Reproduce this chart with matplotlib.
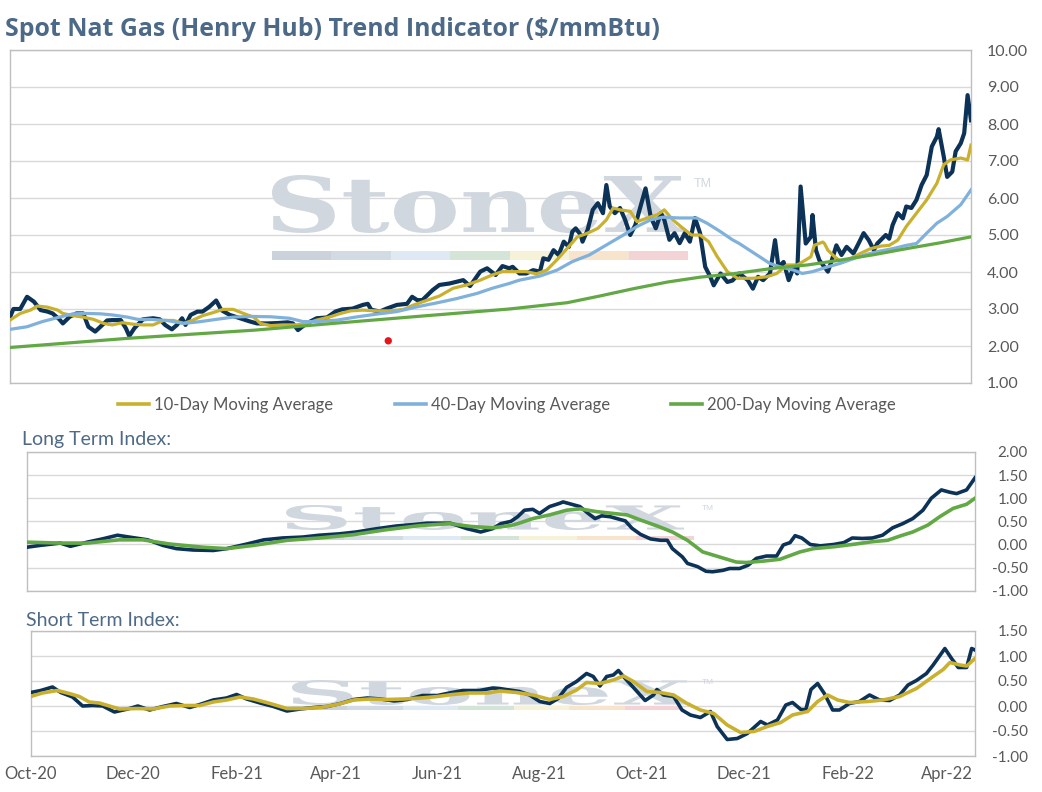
import numpy as np
import pandas as pd
import matplotlib
matplotlib.use("Agg")
import matplotlib.pyplot as plt
import matplotlib.dates as mdates
from matplotlib.ticker import FormatStrFormatter
from matplotlib.lines import Line2D
from matplotlib.patches import PathPatch, Rectangle
from matplotlib.textpath import TextPath
from matplotlib.font_manager import FontProperties
from matplotlib.transforms import Affine2D

plt.rcParams['font.family'] = ['Lato', 'DejaVu Sans']
plt.rcParams['axes.unicode_minus'] = False

# =========================
# DATOS (dias desde 2020-10-01)
# =========================
start = pd.Timestamp("2020-10-01")
last_day = 564

price_day = [
    0, 2, 6, 10, 14, 18, 22, 25, 29, 31,
    35, 39, 43, 46, 50, 53, 57, 60, 65, 68,
    70, 73, 78, 84, 88, 91, 95, 98, 101, 103,
    106, 110, 113, 117, 121, 124, 129, 135, 141, 145,
    151, 157, 163, 166, 169, 174, 180, 186, 191, 195,
    201, 207, 210, 212, 217, 221, 227, 233, 236, 239,
    242, 248, 252, 258, 266, 270, 276, 280, 285, 289,
    293, 295, 299, 303, 307, 311, 313, 316, 319, 322,
    325, 328, 330, 332, 335, 336, 339, 342, 345, 348,
    350, 352, 355, 358, 361, 364, 367, 370, 373, 376,
    379, 382, 384, 387, 390, 393, 396, 399, 402, 405,
    408, 411, 413, 417, 421, 424, 428, 433, 436, 439,
    442, 446, 449, 451, 454, 457, 460, 462, 464, 467,
    470, 471, 473, 475, 480, 482, 485, 488, 491, 495,
    498, 501, 504, 507, 509, 514, 516, 518, 521, 524,
    526, 529, 532, 535, 538, 541, 544, 545, 548, 550,
    553, 555, 558, 560, 562, 564]
price_val = [
    2.78, 3.00, 3.00, 3.33, 3.20, 2.97, 2.93, 2.88, 2.72, 2.61,
    2.79, 2.88, 2.88, 2.52, 2.39, 2.52, 2.69, 2.70, 2.70, 2.48,
    2.27, 2.48, 2.72, 2.75, 2.72, 2.57, 2.45, 2.57, 2.75, 2.57,
    2.84, 2.93, 2.93, 3.06, 3.23, 2.97, 2.84, 2.75, 2.66, 2.61,
    2.61, 2.62, 2.64, 2.61, 2.43, 2.61, 2.75, 2.77, 2.93, 2.99,
    3.01, 3.11, 3.14, 2.98, 2.93, 3.01, 3.11, 3.14, 3.33, 3.24,
    3.24, 3.51, 3.65, 3.69, 3.78, 3.62, 4.01, 4.10, 3.92, 4.16,
    4.10, 4.14, 3.96, 3.96, 4.05, 4.01, 4.37, 4.33, 4.59, 4.46,
    4.82, 4.68, 5.09, 5.18, 5.00, 4.82, 5.14, 5.68, 5.86, 5.59,
    6.35, 5.77, 5.59, 5.73, 5.41, 5.00, 5.27, 5.77, 6.26, 5.50,
    5.18, 5.59, 5.41, 4.87, 5.05, 4.78, 5.05, 4.82, 5.46, 5.05,
    4.14, 3.87, 3.64, 3.96, 3.73, 3.77, 3.96, 3.78, 3.55, 3.87,
    3.78, 3.96, 4.86, 4.14, 4.27, 3.78, 4.14, 3.96, 6.31, 4.77,
    4.95, 5.54, 4.59, 4.32, 4.01, 4.27, 4.72, 4.46, 4.68, 4.50,
    4.77, 5.05, 4.86, 4.59, 4.77, 5.00, 4.90, 5.27, 5.59, 5.45,
    5.77, 5.73, 5.95, 6.35, 6.62, 7.39, 7.66, 7.86, 7.12, 6.57,
    6.71, 7.26, 7.48, 7.75, 8.78, 8.10]

ma10_day = [
    0, 6, 12, 16, 22, 28, 31, 37, 43, 49,
    55, 60, 66, 72, 78, 84, 90, 96, 102, 107,
    113, 119, 125, 131, 137, 143, 147, 153, 160, 168,
    174, 180, 188, 194, 200, 207, 215, 223, 231, 237,
    245, 252, 260, 268, 276, 283, 289, 295, 303, 309,
    315, 321, 327, 333, 339, 345, 350, 354, 358, 364,
    368, 374, 380, 384, 389, 395, 400, 405, 410, 415,
    421, 427, 436, 444, 450, 456, 462, 465, 470, 472,
    477, 478, 480, 484, 488, 493, 499, 505, 511, 516,
    521, 526, 532, 538, 544, 548, 552, 558, 562, 564]
ma10_val = [
    2.70, 2.88, 2.97, 3.08, 3.05, 2.97, 2.88, 2.82, 2.78, 2.72,
    2.61, 2.57, 2.63, 2.59, 2.57, 2.57, 2.69, 2.69, 2.61, 2.69,
    2.82, 2.90, 2.99, 2.99, 2.88, 2.78, 2.61, 2.55, 2.57, 2.57,
    2.61, 2.70, 2.79, 2.88, 2.95, 2.97, 2.95, 2.95, 2.99, 3.11,
    3.24, 3.35, 3.56, 3.65, 3.78, 3.92, 4.01, 4.01, 4.01, 3.95,
    4.05, 4.33, 4.64, 4.95, 5.05, 5.18, 5.41, 5.73, 5.68, 5.64,
    5.36, 5.46, 5.55, 5.68, 5.41, 5.18, 5.00, 5.00, 4.82, 4.42,
    4.01, 3.83, 3.83, 3.87, 3.96, 4.19, 4.19, 4.27, 4.41, 4.72,
    4.81, 4.77, 4.59, 4.41, 4.27, 4.36, 4.50, 4.63, 4.70, 4.72,
    4.86, 5.23, 5.59, 5.95, 6.40, 6.90, 7.03, 7.08, 7.03, 7.43]

ma40_day = [
    0, 10, 19, 29, 37, 45, 53, 60, 69, 75,
    82, 92, 102, 112, 121, 131, 141, 153, 164, 172,
    180, 192, 204, 215, 227, 239, 251, 262, 274, 283,
    293, 299, 311, 321, 330, 340, 350, 360, 368, 376,
    383, 393, 403, 409, 417, 424, 428, 434, 440, 446,
    452, 460, 465, 471, 480, 487, 495, 503, 511, 518,
    526, 532, 538, 544, 550, 558, 564]
ma40_val = [
    2.45, 2.52, 2.66, 2.78, 2.87, 2.88, 2.87, 2.84, 2.78, 2.72,
    2.72, 2.69, 2.61, 2.66, 2.72, 2.78, 2.80, 2.79, 2.75, 2.66,
    2.66, 2.70, 2.79, 2.86, 2.93, 3.06, 3.17, 3.28, 3.42, 3.56,
    3.69, 3.78, 3.89, 4.05, 4.28, 4.46, 4.73, 5.00, 5.23, 5.41,
    5.48, 5.46, 5.46, 5.32, 5.09, 4.87, 4.77, 4.59, 4.41, 4.23,
    4.14, 4.05, 3.96, 4.01, 4.14, 4.23, 4.36, 4.48, 4.57, 4.63,
    4.72, 4.77, 5.05, 5.32, 5.50, 5.82, 6.22]

ma200_day = [0, 70, 144, 192, 242, 293, 327, 346, 366, 386,
             405, 424, 448, 468, 487, 506, 526, 546, 564]
ma200_val = [1.96, 2.21, 2.43, 2.62, 2.81, 3.00, 3.17, 3.35, 3.55, 3.73,
             3.86, 3.95, 4.10, 4.19, 4.32, 4.46, 4.63, 4.79, 4.95]

red_dot_day = 222
red_dot_val = 2.14

lt_price_day = [
    0, 8, 20, 26, 36, 45, 54, 61, 72, 81,
    89, 99, 111, 119, 131, 141, 152, 164, 174, 186,
    196, 208, 220, 230, 238, 252, 262, 270, 277, 282,
    288, 292, 296, 301, 305, 311, 317, 319, 324, 329,
    334, 338, 342, 347, 352, 356, 360, 365, 371, 377,
    381, 384, 390, 393, 399, 404, 408, 414, 418, 424,
    429, 434, 440, 446, 450, 454, 457, 461, 466, 472,
    480, 486, 491, 497, 503, 509, 515, 521, 527, 533,
    538, 544, 549, 553, 559, 564]
lt_price_val = [
    -0.06, -0.02, 0.03, -0.04, 0.05, 0.12, 0.20, 0.16, 0.10, -0.02,
    -0.09, -0.12, -0.13, -0.09, 0.01, 0.10, 0.14, 0.16, 0.20, 0.23,
    0.27, 0.34, 0.40, 0.43, 0.46, 0.46, 0.34, 0.27, 0.34, 0.45,
    0.50, 0.60, 0.74, 0.76, 0.67, 0.82, 0.89, 0.92, 0.87, 0.82,
    0.67, 0.56, 0.62, 0.60, 0.55, 0.51, 0.35, 0.22, 0.12, 0.09,
    0.09, -0.09, -0.27, -0.41, -0.48, -0.58, -0.59, -0.56, -0.52, -0.52,
    -0.45, -0.30, -0.25, -0.25, -0.01, 0.04, 0.19, 0.14, 0.00, -0.03,
    0.00, 0.04, 0.14, 0.13, 0.14, 0.20, 0.36, 0.45, 0.56, 0.74,
    1.00, 1.18, 1.13, 1.10, 1.18, 1.44]

lt_ma_day = [
    0, 20, 36, 55, 69, 85, 105, 119, 135, 155,
    174, 194, 214, 234, 252, 264, 277, 288, 292, 301,
    311, 321, 329, 339, 349, 357, 365, 375, 384, 393,
    402, 412, 422, 428, 438, 448, 460, 468, 480, 491,
    503, 512, 520, 527, 536, 543, 551, 559, 564]
lt_ma_val = [
    0.05, 0.03, 0.03, 0.10, 0.10, 0.01, -0.06, -0.09, -0.02, 0.09,
    0.14, 0.21, 0.32, 0.41, 0.45, 0.39, 0.36, 0.41, 0.45, 0.56,
    0.64, 0.74, 0.77, 0.71, 0.67, 0.64, 0.53, 0.40, 0.27, 0.09,
    -0.16, -0.27, -0.38, -0.39, -0.36, -0.32, -0.16, -0.09, -0.05, 0.00,
    0.06, 0.09, 0.19, 0.27, 0.42, 0.60, 0.78, 0.87, 1.00]

st_price_day = [
    0, 6, 13, 18, 25, 31, 37, 43, 50, 58,
    64, 71, 79, 87, 95, 101, 109, 117, 123, 129,
    137, 145, 153, 161, 169, 177, 185, 193, 201, 209,
    217, 225, 234, 243, 250, 258, 268, 276, 280, 286,
    292, 298, 304, 310, 315, 320, 326, 332, 336, 340,
    344, 348, 351, 354, 360, 367, 372, 374, 378, 384,
    389, 394, 400, 406, 410, 416, 422, 428, 436, 440,
    446, 451, 455, 460, 463, 466, 470, 474, 479, 483,
    489, 495, 501, 507, 513, 519, 524, 529, 535, 539,
    546, 550, 554, 559, 562, 564]
st_price_val = [
    0.27, 0.31, 0.38, 0.27, 0.18, 0.00, 0.01, 0.00, -0.12, -0.06,
    0.00, -0.08, -0.01, 0.05, -0.03, 0.03, 0.12, 0.16, 0.23, 0.14,
    0.06, -0.01, -0.10, -0.06, -0.03, -0.01, 0.05, 0.13, 0.16, 0.14,
    0.10, 0.13, 0.21, 0.21, 0.26, 0.31, 0.31, 0.36, 0.35, 0.32,
    0.29, 0.22, 0.09, 0.05, 0.15, 0.37, 0.49, 0.65, 0.59, 0.40,
    0.59, 0.62, 0.71, 0.59, 0.37, 0.11, 0.22, 0.33, 0.22, 0.19,
    -0.08, -0.18, -0.23, -0.11, -0.41, -0.67, -0.65, -0.55, -0.31, -0.38,
    -0.28, 0.02, 0.07, -0.07, -0.07, 0.33, 0.45, 0.25, -0.08, -0.08,
    0.05, 0.09, 0.22, 0.12, 0.11, 0.22, 0.42, 0.51, 0.65, 0.82,
    1.15, 0.95, 0.77, 0.77, 1.15, 1.12]

st_ma_day = [
    0, 7, 16, 23, 29, 35, 41, 47, 53, 64,
    73, 83, 93, 101, 109, 117, 125, 133, 143, 153,
    163, 173, 183, 193, 203, 213, 223, 233, 243, 252,
    262, 273, 280, 290, 300, 310, 318, 326, 332, 340,
    348, 354, 360, 368, 376, 384, 392, 400, 408, 416,
    424, 432, 440, 448, 455, 464, 470, 476, 482, 489,
    500, 509, 519, 529, 539, 545, 549, 555, 559, 564]
st_ma_val = [
    0.19, 0.26, 0.31, 0.25, 0.19, 0.08, 0.06, 0.00, -0.06, -0.05,
    -0.06, 0.00, 0.01, 0.01, 0.08, 0.12, 0.18, 0.14, 0.05, -0.05,
    -0.05, -0.03, 0.03, 0.12, 0.14, 0.13, 0.14, 0.16, 0.19, 0.23,
    0.26, 0.26, 0.30, 0.27, 0.22, 0.13, 0.19, 0.32, 0.47, 0.45,
    0.52, 0.60, 0.49, 0.29, 0.27, 0.22, 0.05, -0.08, -0.15, -0.38,
    -0.53, -0.51, -0.41, -0.33, -0.18, -0.11, 0.09, 0.22, 0.12, 0.07,
    0.09, 0.12, 0.19, 0.35, 0.59, 0.73, 0.87, 0.82, 0.80, 0.95]

legend_labels = ["10-Day Moving Average", "40-Day Moving Average",
                 "200-Day Moving Average"]

# =========================
# ESTILO
# =========================
NAVY = "#0c3357"
GOLD = "#c9b12f"
LBLUE = "#7fb1db"
GREEN = "#62a845"
GRID = "#d9d9d9"
FRAME = "#bfbfbf"
TXT = "#595959"
TITLE = "#4c6a88"
WM = "#d0d7df"
WM_BAR = ["#cbd2db", "#d2dae4", "#dfe9f3", "#d4e5d7", "#f5f2d8",
          "#f8e3cd", "#f3d3d5"]

W, H = 1042, 792


def to_dates(days):
    return start + pd.to_timedelta(np.array(days), unit="D")


def px_box(l, t, r, b):
    return [l / W, 1 - b / H, (r - l) / W, (b - t) / H]


def style_axes(ax, ylo, yhi, step, fs):
    ax.set_xlim(start, start + pd.Timedelta(days=last_day))
    ax.set_ylim(ylo, yhi)
    ax.set_yticks(np.arange(ylo, yhi + 1e-9, step))
    ax.yaxis.tick_right()
    ax.yaxis.set_major_formatter(FormatStrFormatter('%.2f'))
    ax.grid(axis='y', color=GRID, lw=1.0, zorder=0)
    ax.set_axisbelow(True)
    for s in ax.spines.values():
        s.set_color(FRAME)
        s.set_linewidth(1.0)
    ax.tick_params(axis='y', length=0, labelcolor=TXT, labelsize=fs)
    ax.tick_params(axis='x', length=0, labelbottom=False)


def watermark(fig, ax, l, t, r, b, bar_t, bar_b, bar_r, tm_xy, tm_fs):
    tp = TextPath((0, 0), "StoneX", size=100,
                  prop=FontProperties(family="DejaVu Serif", weight="bold"))
    ext = tp.get_extents()
    tr = (Affine2D().translate(-ext.x0, -ext.y0)
          .scale((r - l) / ext.width / W, (b - t) / ext.height / H)
          .translate(l / W, 1 - b / H) + fig.transFigure)
    ax.add_patch(PathPatch(tp, transform=tr, fc=WM, ec='none', zorder=1))
    edges = np.linspace(l, bar_r, len(WM_BAR) + 1)
    for i, c in enumerate(WM_BAR):
        ax.add_patch(Rectangle((edges[i] / W, 1 - bar_b / H),
                               (edges[i + 1] - edges[i]) / W, (bar_b - bar_t) / H,
                               transform=fig.transFigure, fc=c, ec='none', zorder=1))
    fig.text(tm_xy[0] / W, 1 - tm_xy[1] / H, "TM", color=WM, fontsize=tm_fs,
             ha='left', va='center', family='Liberation Sans')


fig = plt.figure(figsize=(W / 100, H / 100), dpi=100)

# =========================
# PANEL 1: PRECIO Y MEDIAS
# =========================
ax1 = fig.add_axes(px_box(10, 50, 971, 383))
style_axes(ax1, 1, 10, 1, 11.5)
ax1.tick_params(axis='y', pad=11.5)
watermark(fig, ax1, 272, 175, 685, 233, 251, 260, 688, (694, 184), 9)

ax1.plot(to_dates(price_day), price_val, color=NAVY, lw=3.0, zorder=3,
         solid_joinstyle='round')
ax1.plot(to_dates(ma10_day), ma10_val, color=GOLD, lw=2.3, zorder=4)
ax1.plot(to_dates(ma40_day), ma40_val, color=LBLUE, lw=2.3, zorder=4)
ax1.plot(to_dates(ma200_day), ma200_val, color=GREEN, lw=2.3, zorder=4)
ax1.scatter(to_dates([red_dot_day]), [red_dot_val], color="#e8141b", s=28,
            zorder=5, edgecolors='none')

handles = [Line2D([], [], color=c, lw=2.6) for c in (GOLD, LBLUE, GREEN)]
fig.legend(handles, legend_labels, loc='center',
           bbox_to_anchor=(507 / W, 1 - 405 / H), ncol=3, frameon=False,
           fontsize=12, labelcolor=TXT, handlelength=1.85,
           handletextpad=0.3, columnspacing=3.7)

fig.text(5 / W, 1 - 29 / H, "Spot Nat Gas (Henry Hub) Trend Indicator ($/mmBtu)",
         ha='left', va='center', fontsize=17.9, fontweight='bold', color=TITLE,
         family=['Open Sans', 'DejaVu Sans'])

# =========================
# PANEL 2: LONG TERM INDEX
# =========================
ax2 = fig.add_axes(px_box(26.7, 452, 975, 590.7))
style_axes(ax2, -1, 2, 0.5, 11)
ax2.tick_params(axis='y', pad=38)
plt.setp(ax2.get_yticklabels(), ha='right')
watermark(fig, ax2, 286, 505, 684, 530, 536, 540, 694, (702, 508), 6)
ax2.plot(to_dates(lt_price_day), lt_price_val, color=NAVY, lw=2.6, zorder=3)
ax2.plot(to_dates(lt_ma_day), lt_ma_val, color=GREEN, lw=2.6, zorder=4)
fig.text(22 / W, 1 - 440 / H, "Long Term Index:", ha='left', va='center',
         fontsize=14, color="#4e6a86")

# =========================
# PANEL 3: SHORT TERM INDEX
# =========================
ax3 = fig.add_axes(px_box(30.7, 631, 975, 756))
style_axes(ax3, -1, 1.5, 0.5, 11)
ax3.tick_params(axis='y', pad=38)
plt.setp(ax3.get_yticklabels(), ha='right')
watermark(fig, ax3, 292, 680, 691, 705, 706, 710, 680, (702, 683), 6)
ax3.plot(to_dates(st_price_day), st_price_val, color=NAVY, lw=2.6, zorder=3)
ax3.plot(to_dates(st_ma_day), st_ma_val, color=GOLD, lw=2.6, zorder=4)
ax3.xaxis.set_major_locator(mdates.MonthLocator(bymonth=[2, 4, 6, 8, 10, 12]))
ax3.xaxis.set_major_formatter(mdates.DateFormatter('%b-%y'))
ax3.tick_params(axis='x', labelbottom=True, labelsize=12, labelcolor=TXT,
                pad=7)
fig.text(26 / W, 1 - 620 / H, "Short Term Index:", ha='left', va='center',
         fontsize=14, color="#4e6a86")

fig.savefig("out.png", dpi=100)
